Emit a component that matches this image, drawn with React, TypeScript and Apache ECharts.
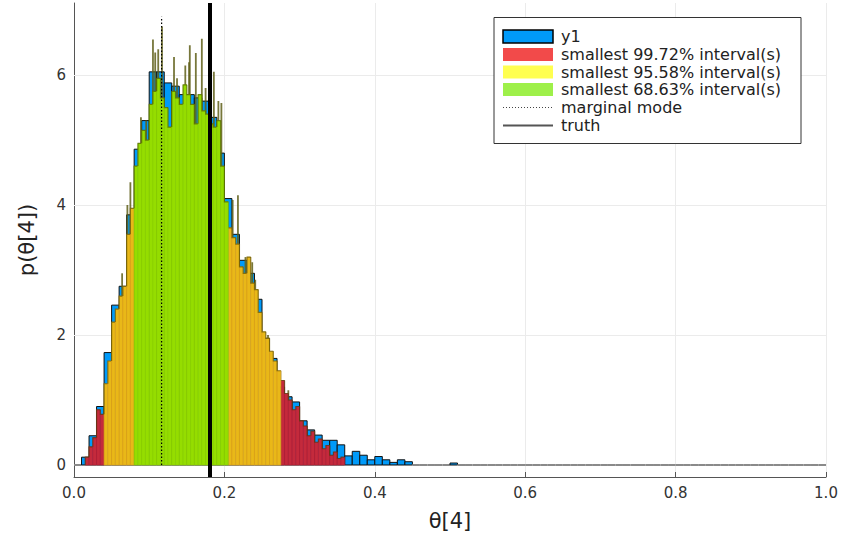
import React, { useEffect, useRef } from "react";
import * as echarts from "echarts";

// ---- data ----
const blueBinWidth = 0.01;
const blueHeights = [
  0, 0.12, 0.45, 0.9, 1.73, 2.46, 2.75, 3.85, 4.86, 5.3,
  6.05, 6.05, 5.88, 5.83, 5.7, 5.7, 5.65, 5.6, 5.35, 4.8,
  4.1, 3.55, 3.15, 2.95, 2.55, 1.95, 1.64, 1.2, 1.05, 0.97,
  0.68, 0.54, 0.46, 0.38, 0.38, 0.31, 0.14, 0.21, 0.15, 0.08,
  0.13, 0.08, 0.04, 0.08, 0.05, 0, 0, 0, 0, 0,
  0.03, 0, 0, 0, 0, 0, 0, 0, 0, 0,
  0, 0, 0, 0, 0, 0, 0, 0, 0, 0,
  0, 0, 0, 0, 0, 0, 0, 0, 0, 0,
  0, 0, 0, 0, 0, 0, 0, 0, 0, 0,
  0, 0, 0, 0, 0, 0, 0, 0, 0, 0,
];

const fineStart = 0.015;
const fineBinWidth = 0.005;
const fineHeights = [
  0.12, 0.28, 0.42, 0.85, 0.78, 1.25, 1.6, 2.2, 2.4, 2.6,
  2.75, 3.55, 3.95, 4.6, 4.95, 5.15, 5.0, 5.55, 5.75, 5.95,
  5.65, 5.5, 5.2, 5.75, 5.65, 5.55, 5.85, 5.7, 5.55, 5.25,
  5.7, 5.45, 5.4, 5.25, 5.2, 5.3, 4.6, 4.05, 3.65, 3.5,
  3.4, 3.05, 2.95, 3.2, 2.8, 2.7, 2.35, 2.05, 1.95, 1.75,
  1.6, 1.45, 1.3, 1.1, 1.0, 0.85, 0.9, 0.68, 0.6, 0.45,
  0.52, 0.35, 0.4, 0.25, 0.3, 0.15, 0.2, 0.1, 0.12,
];

const interval99 = [[0.015, 0.04], [0.275, 0.36]];
const interval95 = [[0.04, 0.08], [0.205, 0.275]];
const interval68 = [[0.08, 0.205]];

const spikeX = [0.064, 0.071, 0.075, 0.089, 0.096, 0.105, 0.108, 0.112, 0.117, 0.133, 0.137, 0.148, 0.153, 0.154, 0.162, 0.170, 0.175, 0.186, 0.192, 0.196, 0.211, 0.218, 0.228, 0.237, 0.241, 0.258, 0.285];
const spikeH = [2.95, 4.0, 4.35, 5.35, 5.3, 6.55, 6.35, 6.4, 6.75, 6.28, 5.95, 6.15, 6.2, 6.46, 6.34, 6.56, 5.8, 6.05, 5.6, 5.57, 4.08, 4.15, 3.2, 3.12, 2.85, 2.0, 1.15];

const modeX = 0.1165;
const modeH = 6.9;
const truthX = 0.1815;

const yTicks = [0, 2, 4, 6];

const legendNames = [
  "y1",
  "smallest 99.72% interval(s)",
  "smallest 95.58% interval(s)",
  "smallest 68.63% interval(s)",
  "marginal mode",
  "truth",
];

const FONT = '"DejaVu Sans", sans-serif';

function inAny(c: number, ranges: number[][]) {
  return ranges.some(([a, b]) => c >= a && c < b);
}

export default function App() {
  const ref = useRef<HTMLDivElement>(null);
  useEffect(() => {
    if (!ref.current) return;
    const chart = echarts.init(ref.current, undefined, { renderer: "svg" });

    const blueData = blueHeights.map((h, i) => [i * blueBinWidth, (i + 1) * blueBinWidth, h]);

    const red: number[][] = [];
    const yellow: number[][] = [];
    const green: number[][] = [];
    fineHeights.forEach((h, j) => {
      const x0 = fineStart + j * fineBinWidth;
      const x1 = x0 + fineBinWidth;
      const c = x0 + fineBinWidth / 2;
      const hp = j > 0 ? fineHeights[j - 1] : 0;
      const item = [x0, x1, h, hp];
      if (inAny(c, interval68)) green.push(item);
      else if (inAny(c, interval95)) yellow.push(item);
      else if (inAny(c, interval99)) red.push(item);
    });

    const spikeData = spikeX.map((x, i) => [x, spikeH[i]]);

    const blueRender = (_p: any, api: any) => {
      const h = api.value(2);
      const a = api.coord([api.value(0), h]);
      const b = api.coord([api.value(1), 0]);
      const zero = h === 0;
      return {
        type: "rect",
        shape: { x: a[0], y: a[1], width: b[0] - a[0], height: b[1] - a[1] },
        style: zero
          ? { fill: "none", stroke: "#8a8a8a", lineWidth: 2.2 }
          : { fill: "#009af9", stroke: "#111", lineWidth: 1 },
      };
    };

    const colored = (fill: string, stripe: string) => (_p: any, api: any) => {
      const x0 = api.value(0), x1 = api.value(1), h = api.value(2), hp = api.value(3);
      const a = api.coord([x0, h]);
      const b = api.coord([x1, 0]);
      const pp = api.coord([x0, hp]);
      return {
        type: "group",
        children: [
          {
            type: "rect",
            shape: { x: a[0], y: a[1], width: b[0] - a[0], height: b[1] - a[1] },
            style: { fill, stroke: stripe, lineWidth: 0.7 },
          },
          {
            type: "polyline",
            shape: { points: [[pp[0], pp[1]], [a[0], a[1]], [b[0], a[1]]] },
            style: { fill: "none", stroke: "rgba(70,70,0,0.55)", lineWidth: 1.2 },
          },
        ],
      };
    };

    const spikeRender = (_p: any, api: any) => {
      const a = api.coord([api.value(0), api.value(1)]);
      const b = api.coord([api.value(0), 0]);
      return {
        type: "rect",
        shape: { x: a[0] - 0.9, y: a[1], width: 1.8, height: b[1] - a[1] },
        style: { fill: "rgba(95,95,25,0.85)" },
      };
    };

    // legend via graphic
    const lx = 494, ly = 17.5, lw = 307, lh = 126;
    const rowY = [36.5, 54.5, 72, 89.5, 107.5, 125.5];
    const iconX = 503, iconW = 50, iconH = 13, textX = 561;
    const iconFills = ["#009af9", "#f24a4a", "#ffff50", "#9ef04a"];
    const Z = 100;
    const legendChildren: any[] = [
      {
        type: "rect",
        z: Z,
        shape: { x: lx, y: ly, width: lw, height: lh },
        style: { fill: "#fff", stroke: "#333", lineWidth: 1 },
      },
    ];
    iconFills.forEach((f, i) => {
      legendChildren.push({
        type: "rect",
        z: Z + 1,
        shape: { x: iconX, y: rowY[i] - iconH / 2, width: iconW, height: iconH },
        style: { fill: f, stroke: i === 0 ? "#000" : "none", lineWidth: 1.5 },
      });
    });
    legendChildren.push({
      type: "line",
      z: Z + 1,
      shape: { x1: iconX, y1: rowY[4], x2: iconX + iconW, y2: rowY[4] },
      style: { stroke: "#444", lineWidth: 1, lineDash: [1, 2] },
    });
    legendChildren.push({
      type: "line",
      z: Z + 1,
      shape: { x1: iconX, y1: rowY[5], x2: iconX + iconW, y2: rowY[5] },
      style: { stroke: "#555", lineWidth: 2 },
    });
    legendNames.forEach((n, i) => {
      legendChildren.push({
        type: "text",
        z: Z + 2,
        style: {
          text: n,
          x: textX,
          y: rowY[i],
          fill: "#222",
          fontSize: 16,
          fontFamily: FONT,
          verticalAlign: "middle",
          align: "left",
        },
      });
    });

    chart.setOption({
      animation: false,
      grid: { left: 74, right: 32, top: 3, bottom: 64, containLabel: false },
      xAxis: {
        type: "value",
        min: 0,
        max: 1,
        interval: 0.2,
        name: "θ[4]",
        nameLocation: "middle",
        nameGap: 33,
        nameTextStyle: { fontSize: 21, fontFamily: FONT, color: "#222" },
        axisLine: { onZero: false, lineStyle: { color: "#555", width: 1 } },
        axisTick: { inside: true, length: 5, lineStyle: { color: "#555" } },
        axisLabel: {
          margin: 8,
          fontSize: 15,
          fontFamily: FONT,
          color: "#333",
          formatter: (v: number) => v.toFixed(1),
        },
        splitLine: { show: true, lineStyle: { color: "#ebebeb", width: 1 } },
      },
      yAxis: {
        type: "value",
        min: -0.185,
        max: 7.11,
        name: "p(θ[4])",
        nameLocation: "middle",
        nameGap: 37,
        nameTextStyle: { fontSize: 21, fontFamily: FONT, color: "#222" },
        axisLine: { show: true, lineStyle: { color: "#555", width: 1 } },
        axisTick: { show: true, inside: true, length: 5, customValues: yTicks, lineStyle: { color: "#555" } },
        axisLabel: { customValues: yTicks, margin: 8, fontSize: 15, fontFamily: FONT, color: "#333" },
        splitLine: { show: false },
      },
      graphic: [{ type: "group", z: Z, children: legendChildren }],
      series: [
        {
          type: "line",
          name: "grid",
          data: [],
          z: 1,
          silent: true,
          markLine: {
            silent: true,
            symbol: ["none", "none"],
            label: { show: false },
            z: 1,
            lineStyle: { color: "#ebebeb", width: 1, type: "solid" },
            data: yTicks.map((v) => ({ yAxis: v })),
          },
        },
        {
          type: "custom",
          name: legendNames[0],
          z: 2,
          renderItem: blueRender,
          encode: { x: [0, 1], y: [2] },
          data: blueData,
        },
        {
          type: "custom",
          name: "spikes",
          z: 3,
          renderItem: spikeRender,
          encode: { x: [0], y: [1] },
          data: spikeData,
        },
        {
          type: "custom",
          name: legendNames[1],
          z: 4,
          renderItem: colored("#c42a3c", "#b01f37"),
          encode: { x: [0, 1], y: [2] },
          data: red,
        },
        {
          type: "custom",
          name: legendNames[2],
          z: 4,
          renderItem: colored("#e9b818", "#dea21a"),
          encode: { x: [0, 1], y: [2] },
          data: yellow,
        },
        {
          type: "custom",
          name: legendNames[3],
          z: 4,
          renderItem: colored("#95dd00", "#8bd000"),
          encode: { x: [0, 1], y: [2] },
          data: green,
        },
        {
          type: "line",
          name: legendNames[4],
          z: 5,
          symbol: "none",
          lineStyle: { color: "#000", width: 1.2, type: [1.5, 2] },
          data: [
            [modeX, 0],
            [modeX, modeH],
          ],
        },
        {
          type: "line",
          name: legendNames[5],
          data: [],
          z: 6,
          markLine: {
            silent: true,
            symbol: ["none", "none"],
            label: { show: false },
            z: 6,
            lineStyle: { color: "#000", width: 4, type: "solid" },
            data: [{ xAxis: truthX }],
          },
        },
      ],
    });
    return () => chart.dispose();
  }, []);
  return (
    <div
      ref={ref}
      style={{ position: "fixed", left: 0, top: 0, width: 858, height: 541, background: "#fff" }}
    />
  );
}
